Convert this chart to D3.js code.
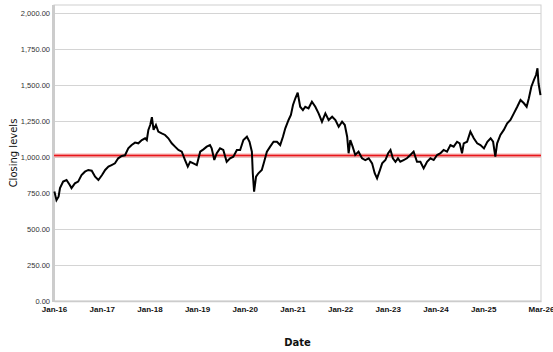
<!DOCTYPE html>
<html>
<head>
<meta charset="utf-8">
<script src="https://cdn.jsdelivr.net/npm/d3@7"></script>
<style>
  body { margin: 0; background: #fff; }
  svg { display: block; font-family: "DejaVu Sans", Verdana, sans-serif; }
</style>
</head>
<body>
<div id="chart"></div>
<script>
// closing levels (approx.)
const dates = [
  '2016-01-04','2016-01-12','2016-01-20','2016-02-05','2016-02-16','2016-03-11','2016-04-06','2016-05-01','2016-05-14','2016-06-09',
  '2016-07-04','2016-07-30','2016-08-25','2016-09-20','2016-10-16','2016-11-11','2016-12-06','2017-01-03','2017-01-27','2017-02-21',
  '2017-03-17','2017-04-12','2017-05-07','2017-06-03','2017-06-28','2017-07-23','2017-08-18','2017-09-13','2017-10-08','2017-11-04',
  '2017-11-29','2017-12-12','2017-12-24','2018-01-07','2018-01-20','2018-02-02','2018-02-20','2018-03-10','2018-04-05','2018-05-01',
  '2018-05-26','2018-06-21','2018-07-16','2018-08-11','2018-09-06','2018-10-01','2018-10-22','2018-11-09','2018-12-04','2018-12-30',
  '2019-01-25','2019-02-19','2019-03-16','2019-04-10','2019-04-23','2019-05-13','2019-06-01','2019-06-26','2019-07-21','2019-08-16',
  '2019-09-11','2019-10-06','2019-11-02','2019-11-27','2019-12-22','2020-01-18','2020-02-07','2020-02-25','2020-03-03','2020-03-13',
  '2020-03-28','2020-04-15','2020-05-11','2020-05-29','2020-06-19','2020-07-14','2020-08-09','2020-09-04','2020-09-29','2020-10-20',
  '2020-11-07','2020-12-02','2020-12-20','2021-01-05','2021-01-23','2021-02-10','2021-03-01','2021-03-22','2021-04-09','2021-05-04',
  '2021-05-30','2021-06-25','2021-07-20','2021-08-15','2021-09-10','2021-10-05','2021-11-01','2021-11-26','2021-12-21','2022-01-16',
  '2022-02-06','2022-02-24','2022-03-07','2022-03-20','2022-04-07','2022-04-27','2022-05-22','2022-06-18','2022-07-13','2022-08-08',
  '2022-09-03','2022-09-23','2022-10-11','2022-10-29','2022-11-19','2022-12-14','2023-01-04','2023-01-22','2023-02-09','2023-03-01',
  '2023-03-20','2023-04-07','2023-05-02','2023-05-28','2023-06-23','2023-07-18','2023-08-13','2023-09-08','2023-10-03','2023-10-29',
  '2023-11-24','2023-12-19','2024-01-14','2024-02-09','2024-03-04','2024-03-30','2024-04-25','2024-05-20','2024-06-15','2024-07-05',
  '2024-07-23','2024-08-05','2024-08-31','2024-09-25','2024-10-21','2024-11-16','2024-12-11','2025-01-07','2025-02-02','2025-02-27',
  '2025-03-18','2025-04-04','2025-04-18','2025-05-13','2025-06-08','2025-07-04','2025-07-29','2025-08-24','2025-09-19','2025-10-14',
  '2025-11-09','2025-11-30','2025-12-17','2026-01-05','2026-01-25','2026-02-10','2026-02-21','2026-03-01','2026-03-16'
];
const closes = [
  760, 730, 700, 724, 784, 829, 840, 805, 784, 817,
  829, 875, 898, 910, 905, 863, 840, 875, 910, 933,
  944, 956, 991, 1007, 1012, 1060, 1083, 1100, 1095, 1118,
  1130, 1118, 1188, 1222, 1276, 1188, 1222, 1176, 1164, 1153,
  1130, 1095, 1072, 1049, 1037, 979, 933, 967, 956, 944,
  1037, 1053, 1072, 1083, 1060, 979, 1026, 1060, 1049, 967,
  991, 1002, 1049, 1049, 1118, 1141, 1106, 1037, 887, 759,
  863, 887, 910, 967, 1037, 1072, 1106, 1106, 1083, 1141,
  1199, 1257, 1292, 1361, 1408, 1447, 1349, 1326, 1349, 1338,
  1384, 1349, 1303, 1245, 1303, 1257, 1280, 1257, 1210, 1245,
  1222, 1141, 1026, 1118, 1072, 1014, 1037, 991, 979, 991,
  956, 887, 852, 898, 956, 979, 1026, 1049, 991, 967,
  991, 967, 979, 991, 1014, 1037, 967, 967, 921, 967,
  991, 979, 1014, 1026, 1049, 1037, 1083, 1072, 1106, 1095,
  1026, 1095, 1106, 1176, 1130, 1095, 1083, 1060, 1106, 1130,
  1106, 1002, 1095, 1153, 1188, 1234, 1257, 1303, 1349, 1396,
  1373, 1349, 1408, 1488, 1535, 1569, 1616, 1512, 1430
];
const refLevel = 1010;
const yTicks = [0, 250, 500, 750, 1000, 1250, 1500, 1750, 2000];
const xTickDates = ['2016-01-01','2017-01-01','2018-01-01','2019-01-01','2020-01-01','2021-01-01',
  '2022-01-01','2023-01-01','2024-01-01','2025-01-01','2026-03-20'];
const xTickLabels = ['Jan-16','Jan-17','Jan-18','Jan-19','Jan-20','Jan-21','Jan-22','Jan-23','Jan-24','Jan-25','Mar-26'];

const W = 553, H = 352;
const M = { top: 13, right: 12, bottom: 51, left: 54 };
const parse = d3.timeParse('%Y-%m-%d');
const data = dates.map((d, i) => ({ date: parse(d), v: closes[i] }));

const svg = d3.select('#chart').append('svg').attr('width', W).attr('height', H);

const x = d3.scaleTime()
  .domain([parse('2016-01-01'), parse('2026-03-20')])
  .range([M.left, W - M.right]);
const y = d3.scaleLinear().domain([0, 2000]).range([H - M.bottom, M.top]);

// plot frame
svg.append('rect')
  .attr('x', M.left).attr('y', 5)
  .attr('width', W - M.right - M.left).attr('height', y(0) - 5)
  .attr('fill', 'none').attr('stroke', '#cfcfcf').attr('stroke-width', 1);

// gridlines + y labels
const yAxis = svg.append('g').attr('transform', `translate(${M.left},0)`)
  .call(d3.axisLeft(y).tickValues(yTicks).tickFormat(d3.format(',.2f'))
    .tickSize(-(W - M.right - M.left)).tickPadding(4));
yAxis.select('.domain').remove();
yAxis.selectAll('.tick line').attr('stroke', '#d4d4d4').attr('stroke-width', 1.2);
yAxis.selectAll('.tick text').attr('fill', '#333').style('font-size', '7.5px');

// left axis bar
svg.append('line')
  .attr('x1', M.left - 0.5).attr('x2', M.left - 0.5)
  .attr('y1', 5).attr('y2', y(0) + 1)
  .attr('stroke', '#cccccc').attr('stroke-width', 3);

// x labels
const xAxis = svg.append('g').attr('transform', `translate(0,${y(0)})`)
  .call(d3.axisBottom(x).tickValues(xTickDates.map(parse))
    .tickFormat((d, i) => xTickLabels[i]).tickSize(0).tickPadding(5));
xAxis.select('.domain').attr('stroke', '#cccccc').attr('stroke-width', 1.5);
xAxis.selectAll('.tick text').attr('fill', '#111').style('font-size', '8px').style('font-weight', 'bold');

// reference line
svg.append('line')
  .attr('x1', M.left).attr('x2', W - M.right)
  .attr('y1', y(refLevel)).attr('y2', y(refLevel))
  .attr('stroke', '#f6b0b0').attr('stroke-width', 4);
svg.append('line')
  .attr('x1', M.left).attr('x2', W - M.right)
  .attr('y1', y(refLevel)).attr('y2', y(refLevel))
  .attr('stroke', '#e8161b').attr('stroke-width', 1.5);

// series
svg.append('path').datum(data)
  .attr('d', d3.line().x(d => x(d.date)).y(d => y(d.v)))
  .attr('fill', 'none').attr('stroke', '#000').attr('stroke-width', 2)
  .attr('stroke-linejoin', 'miter').attr('stroke-miterlimit', 3);

// axis titles
svg.append('text')
  .attr('x', (M.left + W - M.right) / 2).attr('y', 346)
  .attr('text-anchor', 'middle')
  .style('font-size', '10px').style('font-weight', 'bold').attr('fill', '#111')
  .text('Date');
svg.append('text')
  .attr('transform', `translate(17,${(5 + y(0)) / 2}) rotate(-90)`)
  .attr('text-anchor', 'middle')
  .style('font-size', '10px').attr('fill', '#111')
  .text('Closing levels');
</script>
</body>
</html>
